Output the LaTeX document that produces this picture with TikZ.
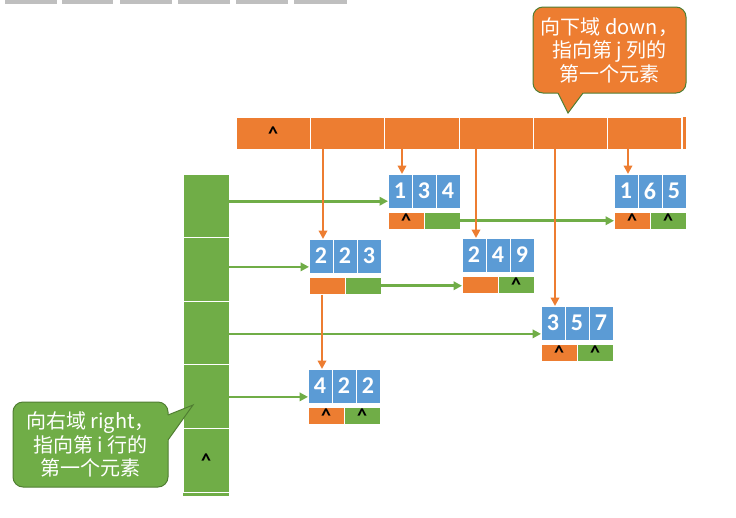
\documentclass[tikz,border=0pt]{standalone}
\usepackage{fontspec}
\setmainfont{Carlito}
\newfontfamily\cjk{Noto Sans CJK SC}
\usetikzlibrary{arrows.meta,calc}
\definecolor{orng}{HTML}{ED7D31}
\definecolor{grn}{HTML}{70AD47}
\definecolor{blu}{HTML}{5B9BD5}
\definecolor{dgrn}{HTML}{507E32}
\definecolor{tabgray}{HTML}{BFBFBF}
\tikzset{
  cell/.style={draw=white, line width=0.8pt, anchor=north west, inner sep=0pt, outer sep=0pt},
  bluecell/.style={cell, fill=blu, minimum width=24pt, minimum height=34pt, text=white,
    font=\fontsize{24}{24}\selectfont\bfseries},
  ocell/.style={cell, fill=orng, minimum width=36pt, minimum height=17.5pt,
    font=\fontsize{20}{20}\selectfont\bfseries},
  gcell/.style={cell, fill=grn, minimum width=36pt, minimum height=17.5pt,
    font=\fontsize{20}{20}\selectfont\bfseries},
  hcell/.style={cell, fill=orng, minimum width=74.3pt, minimum height=32pt,
    font=\fontsize{20}{20}\selectfont\bfseries},
  lcell/.style={cell, fill=grn, minimum width=46pt, minimum height=63.6pt,
    font=\fontsize{20}{20}\selectfont\bfseries},
  oarrow/.style={draw=orng, line width=2.6pt, -{Triangle[width=8.5pt,length=8.5pt]}},
  garrow/.style={draw=grn, line width=2.6pt, -{Triangle[width=8.5pt,length=8.5pt]}},
  calloutbox/.style={line width=1pt, rounded corners=10pt, text=white, align=center,
    inner sep=0pt, font=\cjk\fontsize{20}{23.5}\selectfont}
}
\newcommand\nilmark{\raisebox{-7pt}[0pt][0pt]{\textasciicircum}}
\newcommand\mkelem[8]{%
  \node[bluecell] (#1a) at (#2,#3) {#4};
  \node[bluecell] (#1b) at (#2+24,#3) {#5};
  \node[bluecell] (#1c) at (#2+48,#3) {#6};
  \node[ocell] (#1d) at (#2,#3+38) {#7};
  \node[gcell] (#1r) at (#2+36,#3+38) {#8};
}
\begin{document}
\begin{tikzpicture}[x=1pt,y=-1pt]
\useasboundingbox (0,0) rectangle (736,517);
% grey tabs at the top
\foreach \a/\b in {5/57,62/113,120/172,178/230,236/288,294/347}
  \fill[tabgray] (\a,0) rectangle (\b,3.5);
% header row (column heads)
\node[hcell] (h1) at (236,117) {\nilmark};
\foreach \i in {2,...,6}
  \node[hcell] (h\i) at ({236+(\i-1)*74.3},117) {};
\fill[orng] (683,117) rectangle (686,149);
% left column (row heads)
\foreach \i in {1,...,4}
  \node[lcell] (r\i) at (183,{174+(\i-1)*63.6}) {};
\node[lcell] (r5) at (183,{174+4*63.6}) {\nilmark};
\fill[grn] (183,493) rectangle (229,495.5);
% elements
\mkelem{e134}{388}{174}{1}{3}{4}{\nilmark}{}
\mkelem{e165}{614}{174}{1}{6}{5}{\nilmark}{\nilmark}
\mkelem{e223}{309}{239}{2}{2}{3}{}{}
\mkelem{e249}{462}{238}{2}{4}{9}{}{\nilmark}
\mkelem{e357}{541}{306}{3}{5}{7}{\nilmark}{\nilmark}
\mkelem{e422}{308}{369}{4}{2}{2}{\nilmark}{\nilmark}
% row-head arrows
\coordinate (p1) at ($(e134a.south west)!0.2!(e134a.north west)$);
\coordinate (p2) at ($(e223a.south west)!0.18!(e223a.north west)$);
\coordinate (p3) at ($(e357a.south west)!0.18!(e357a.north west)$);
\coordinate (p4) at ($(e422a.south west)!0.18!(e422a.north west)$);
\draw[garrow] (r1.east |- p1) -- (p1);
\draw[garrow] (r2.east |- p2) -- (p2);
\draw[garrow] (r3.east |- p3) -- (p3);
\draw[garrow] (r4.east |- p4) -- (p4);
% right links
\draw[garrow] (e134r.east) -- (e165d.west |- e134r.east);
\draw[garrow] (e223r.east) -- (e249d.west |- e223r.east);
% column-head arrows
\coordinate (q1) at ($(e223a.north)+(2,0)$);
\coordinate (q2) at ($(e134a.north)+(2,0)$);
\coordinate (q3) at ($(e249a.north)+(2,0)$);
\coordinate (q4) at ($(e357a.north)+(2,0)$);
\coordinate (q5) at ($(e165a.north)+(2,0)$);
\draw[oarrow] (h2.south -| q1) -- (q1);
\draw[oarrow] (h3.south -| q2) -- (q2);
\draw[oarrow] (h4.south -| q3) -- (q3);
\draw[oarrow] (h5.south -| q4) -- (q4);
\draw[oarrow] (h6.south -| q5) -- (q5);
% down link
\coordinate (q6) at ($(e422a.north)+(2,0)$);
\draw[oarrow] (e223d.south -| q6) -- (q6);
% callout: down
\node[calloutbox, draw=dgrn, fill=orng, minimum width=153pt, minimum height=86pt]
  (cdown) at (609.5,50)
  {向下域 down，\\指向第 j 列的\\第一个元素};
\fill[orng] (556.5,90) -- (568,113) -- (585.25,90) -- cycle;
\draw[dgrn, line width=1pt] (558,93) -- (568,113) -- (583,93);
% callout: right
\node[calloutbox, draw=dgrn, fill=grn, minimum width=155pt, minimum height=85pt]
  (cright) at (90.5,444.5)
  {向右域 right，\\指向第 i 行的\\第一个元素};
\fill[grn] (165,416.2) -- (193,405) -- (165,444.2) -- cycle;
\draw[dgrn, line width=1pt] (168,415) -- (193,405) -- (168,440);
\end{tikzpicture}
\end{document}
